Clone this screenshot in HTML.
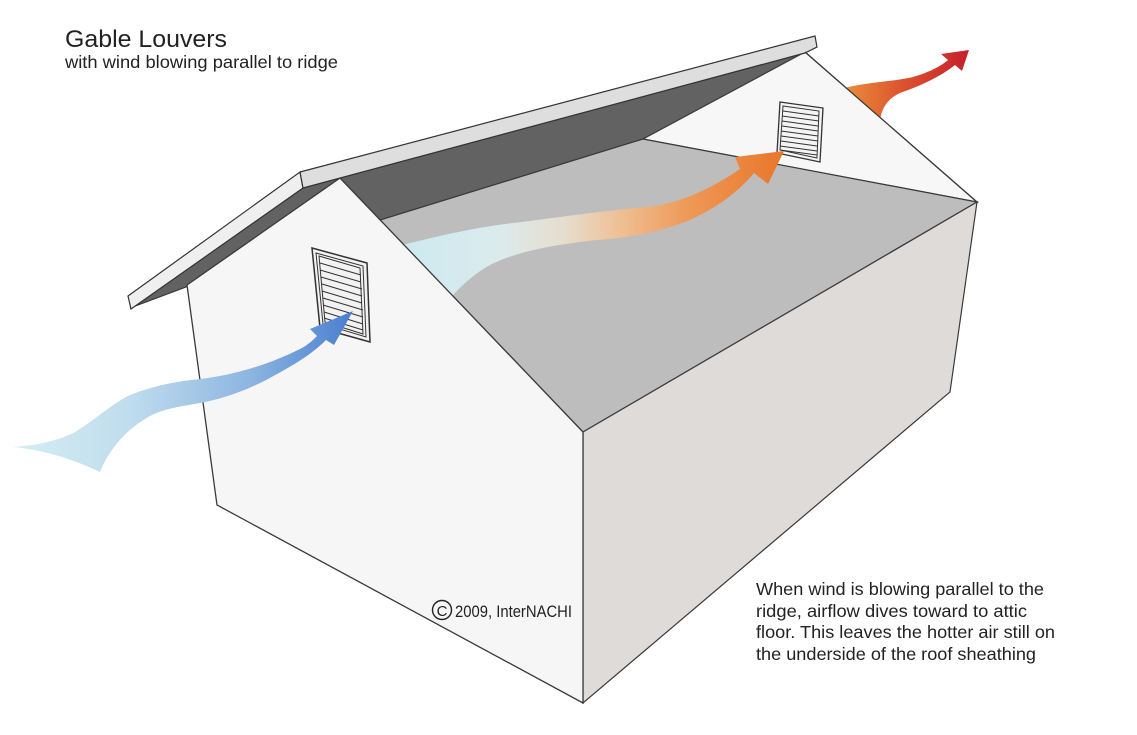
<!DOCTYPE html>
<html>
<head>
<meta charset="utf-8">
<style>
  html, body { margin: 0; padding: 0; background: #ffffff; }
  body { width: 1137px; height: 735px; overflow: hidden; }
  svg { display: block; }
  text { font-family: "Liberation Sans", "DejaVu Sans", sans-serif; fill: #222222; }
</style>
</head>
<body>
<svg width="1137" height="735" viewBox="0 0 1137 735" xmlns="http://www.w3.org/2000/svg">
  <defs>
    <linearGradient id="gBlue" gradientUnits="userSpaceOnUse" x1="13" y1="0" x2="352" y2="0">
      <stop offset="0" stop-color="#d6edf3"/>
      <stop offset="0.35" stop-color="#bfdcee"/>
      <stop offset="0.7" stop-color="#8db5e1"/>
      <stop offset="1" stop-color="#4a7fd0"/>
    </linearGradient>
    <linearGradient id="gMid" gradientUnits="userSpaceOnUse" x1="405" y1="0" x2="785" y2="0">
      <stop offset="0" stop-color="#cde9f1"/>
      <stop offset="0.25" stop-color="#dbebec"/>
      <stop offset="0.42" stop-color="#e6ddcd"/>
      <stop offset="0.58" stop-color="#efbd8f"/>
      <stop offset="0.75" stop-color="#ee9856"/>
      <stop offset="1" stop-color="#e8762a"/>
    </linearGradient>
    <linearGradient id="gRed" gradientUnits="userSpaceOnUse" x1="848" y1="0" x2="968" y2="0">
      <stop offset="0" stop-color="#e98a3a"/>
      <stop offset="0.5" stop-color="#da4e2e"/>
      <stop offset="1" stop-color="#c6202c"/>
    </linearGradient>
    <clipPath id="outsideRear">
      <polygon points="745,0 1137,0 1137,342"/>
    </clipPath>
  </defs>

  <!-- dark roof underside -->
  <polygon points="130,308 303,188 805,53 643,139 380,220 340,178 186,287" fill="#626262" stroke="#333" stroke-width="1"/>

  <!-- rear gable wall -->
  <polygon points="805,52 977,202 643,139" fill="#f7f7f7" stroke="#3a3a3a" stroke-width="1.2"/>

  <!-- attic floor -->
  <polygon points="380,220 643,139 977,202 583,432" fill="#bdbdbd" stroke="#3a3a3a" stroke-width="1.2"/>

  <!-- rear louver -->
  <g stroke="#333" fill="none" stroke-width="1">
    <polygon points="780,102 823,108 820,162 777,153" fill="#f4f4f4" stroke-width="1.3"/>
    <polygon points="783,106 819,111 817,158 780,150"/>
    <line x1="783" y1="111" x2="819" y2="116"/>
    <line x1="782" y1="116" x2="819" y2="121"/>
    <line x1="782" y1="121" x2="818" y2="126"/>
    <line x1="782" y1="126" x2="818" y2="131"/>
    <line x1="781" y1="131" x2="818" y2="136"/>
    <line x1="781" y1="136" x2="818" y2="141"/>
    <line x1="781" y1="141" x2="817" y2="146"/>
    <line x1="780" y1="146" x2="817" y2="151"/>
    <line x1="780" y1="150" x2="817" y2="155"/>
  </g>

  <!-- right side wall -->
  <polygon points="583,432 977,202 950,392 583,703" fill="#dfdbd8" stroke="#3a3a3a" stroke-width="1.2"/>

  <!-- middle arrow (inside attic) -->
  <path d="M 390,248 C 430,238 470,228 513,223 C 555,218 600,211 647,207 C 682,203 712,188 740,169 L 735,157 L 784,151 L 768,184 L 754,173 C 738,192 718,207 690,220 C 660,232 630,238 597,240 C 560,244 520,250 490,265 C 470,276 455,292 440,310 Z" fill="url(#gMid)"/>

  <!-- front gable wall -->
  <polygon points="187,285 340,178 583,432 583,703 217,505" fill="#f6f6f6" stroke="#3a3a3a" stroke-width="1.3"/>

  <!-- front louver -->
  <g stroke="#333" fill="none" stroke-width="1">
    <polygon points="312,248 367,263 370,342 320,328" fill="#f2f2f2" stroke-width="1.5"/>
    <polygon points="316,253 363,266 366,337 323,324"/>
    <polygon points="319,256 360,268 363,334 325,322"/>
    <line x1="320" y1="263" x2="361" y2="275"/>
    <line x1="320" y1="270" x2="361" y2="282"/>
    <line x1="321" y1="277" x2="362" y2="289"/>
    <line x1="322" y1="284" x2="362" y2="296"/>
    <line x1="322" y1="291" x2="362" y2="303"/>
    <line x1="323" y1="298" x2="363" y2="310"/>
    <line x1="323" y1="305" x2="363" y2="317"/>
    <line x1="324" y1="312" x2="363" y2="324"/>
    <line x1="324" y1="318" x2="363" y2="330"/>
  </g>

  <!-- blue incoming arrow -->
  <path d="M 13,447 C 40,445 60,440 75,432 C 95,420 110,405 130,395 C 155,385 180,381 200,379 C 235,375 270,364 300,349 C 308,345 313,340 317,336 L 310,329 L 353,311 L 334,345 L 326,340 C 310,356 290,367 268,379 C 245,391 222,399 200,403 C 178,407 160,409 145,419 C 125,431 108,451 100,472 C 75,460 45,450 13,447 Z" fill="url(#gBlue)"/>

  <!-- front rake board -->
  <polygon points="128,296 300,172 303,188 131,309" fill="#efefef" stroke="#333" stroke-width="1.2"/>
  <!-- ridge board -->
  <polygon points="300,172 815,36 817,47 805,53 303,188" fill="#dedede" stroke="#333" stroke-width="1.2"/>

  <!-- outgoing arrow (outside rear gable) -->
  <g clip-path="url(#outsideRear)">
    <path d="M 830,92 C 860,82 893,82 913,77 C 930,72 941,66 948,60 L 941,54 L 969,50 L 962,71 L 955,65 C 940,77 920,86 900,93 C 887,99 881,109 880,122 L 830,92 Z" fill="url(#gRed)"/>
  </g>
  <line x1="805" y1="52" x2="977" y2="202" stroke="#3a3a3a" stroke-width="1.2"/>

  <!-- titles -->
  <text x="65" y="47" font-size="24" textLength="162" lengthAdjust="spacingAndGlyphs">Gable Louvers</text>
  <text x="65" y="68" font-size="17.5" textLength="273" lengthAdjust="spacingAndGlyphs">with wind blowing parallel to ridge</text>

  <!-- copyright -->
  <circle cx="442" cy="610" r="9.5" fill="none" stroke="#222" stroke-width="1.4"/>
  <text x="442" y="616" font-size="15" text-anchor="middle">C</text>
  <text x="455" y="617" font-size="17" textLength="117" lengthAdjust="spacingAndGlyphs">2009, InterNACHI</text>

  <!-- description -->
  <text x="756" y="595" font-size="17.5" textLength="288" lengthAdjust="spacingAndGlyphs">When wind is blowing parallel to the</text>
  <text x="756" y="617" font-size="17.5" textLength="271" lengthAdjust="spacingAndGlyphs">ridge, airflow dives toward to attic</text>
  <text x="756" y="638" font-size="17.5" textLength="299" lengthAdjust="spacingAndGlyphs">floor. This leaves the hotter air still on</text>
  <text x="756" y="660" font-size="17.5" textLength="280" lengthAdjust="spacingAndGlyphs">the underside of the roof sheathing</text>
</svg>
</body>
</html>
